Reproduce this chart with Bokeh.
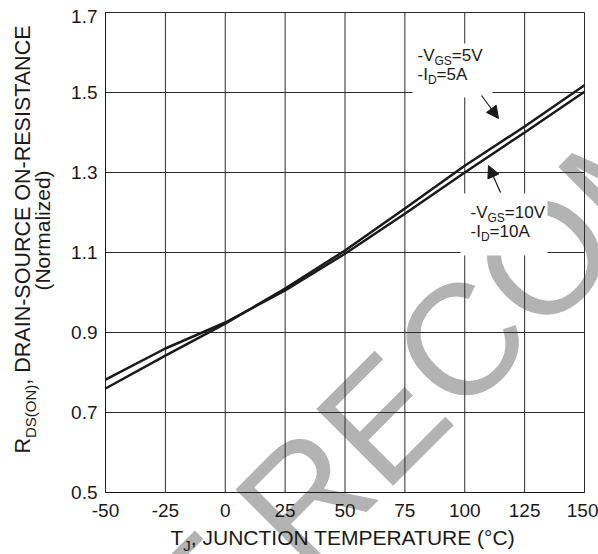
import math
from bokeh.plotting import figure
from bokeh.models import Range1d, FixedTicker, Label, Arrow, NormalHead, LinearAxis
from bokeh.embed import file_html
from bokeh.resources import INLINE

# ---------------- data ----------------
temps = [-50, -25, 0, 25, 50, 75, 100, 125, 150]
r_vgs5 = [0.760, 0.842, 0.922, 1.010, 1.105, 1.210, 1.317, 1.415, 1.518]
r_vgs10 = [0.782, 0.860, 0.925, 1.005, 1.097, 1.197, 1.300, 1.400, 1.502]
x_ticks = [-50, -25, 0, 25, 50, 75, 100, 125, 150]
x_tick_labels = ["-50", "-25", "0", "25", "50", "75", "100", "125", "150"]
y_ticks = [0.5, 0.7, 0.9, 1.1, 1.3, 1.5, 1.7]

X_MIN, X_MAX = -50, 150
Y_MIN, Y_MAX = 0.5, 1.7

INK = "#1a1a1a"
FONT = "Liberation Sans"

# ---------------- layout (canvas pixels) ----------------
W, H = 598, 554
FRAME_L, FRAME_W = 105, 479      # where x=-50 .. 150 sits on the canvas
FRAME_T, FRAME_H = 12, 480       # where y=1.7 .. 0.5 sits on the canvas
FRAME_B = FRAME_T + FRAME_H


def px2x(px):
    return X_MIN + (px - FRAME_L) * (X_MAX - X_MIN) / FRAME_W


def py2y(py):
    return Y_MIN + (FRAME_B - py) * (Y_MAX - Y_MIN) / FRAME_H


p = figure(width=W, height=H, output_backend="svg", toolbar_location=None, title=None,
           x_range=Range1d(px2x(0), px2x(W)), y_range=Range1d(py2y(H), py2y(0)),
           x_axis_location=None, y_axis_location=None,
           min_border=0, min_border_left=0, min_border_right=0,
           min_border_top=0, min_border_bottom=0)
p.background_fill_color = "white"
p.border_fill_color = "white"
p.outline_line_color = None
p.xgrid.visible = False
p.ygrid.visible = False

xaxis = LinearAxis(fixed_location=Y_MIN, bounds=(X_MIN, X_MAX), ticker=FixedTicker(ticks=x_ticks))
yaxis = LinearAxis(fixed_location=X_MIN, bounds=(Y_MIN, Y_MAX), ticker=FixedTicker(ticks=y_ticks))
for ax in (xaxis, yaxis):
    ax.axis_line_color = INK
    ax.axis_line_width = 1
    ax.major_tick_out = 0
    ax.major_tick_in = 0
    ax.minor_tick_out = 0
    ax.minor_tick_in = 0
    ax.major_label_text_font = FONT
    ax.major_label_text_font_size = "19px"
    ax.major_label_text_color = INK
xaxis.major_label_standoff = 11
yaxis.major_label_standoff = 8
xaxis.major_label_overrides = {t: s for t, s in zip(x_ticks, x_tick_labels)}
yaxis.major_label_overrides = {1.7: ""}
p.add_layout(xaxis, "below")
p.add_layout(yaxis, "left")

# ---------------- text helpers ----------------
WID = {" ": 278, "(": 333, ")": 333, ",": 278, "-": 333, "=": 584, "°": 400,
       "A": 667, "C": 722, "D": 722, "E": 667, "G": 778, "I": 278, "J": 500,
       "M": 833, "N": 722, "O": 778, "P": 667, "R": 722, "S": 667, "T": 611,
       "U": 722, "V": 667}
for d in "0123456789":
    WID[d] = 556

BASELINE_FIX = 0.42   # Label's alphabetic anchor sits this many em below the glyph baseline


def tw(s, size):
    return sum(WID.get(c, 556) for c in s) * size / 1000.0


def add_label(t, px, py, size, angle=0.0, align="left", baseline="alphabetic",
              color=INK, level="annotation"):
    if baseline == "alphabetic":
        px += -math.sin(angle) * BASELINE_FIX * size
        py += -math.cos(angle) * BASELINE_FIX * size
    lab = Label(x=px2x(px), y=py2y(py), x_units="data", y_units="data", text=t,
                text_font=FONT, text_font_size=f"{size}px", text_color=color,
                text_align=align, text_baseline=baseline, angle=angle, level=level)
    p.add_layout(lab)


def add_run(pieces, px, py, vertical=False):
    pos = 0.0
    for t, size, shift in pieces:
        if vertical:
            add_label(t, px + shift, py - pos, size, angle=math.pi / 2)
        else:
            add_label(t, px + pos, py + shift, size)
        pos += tw(t, size)


# ---------------- watermark ----------------
add_label("NOT RECOMMENDED", 46, 848, 158, angle=math.pi / 4, color="#b3b3b3", level="image")

# ---------------- grid (from the tick lists) ----------------
p.segment(x0=x_ticks, y0=[Y_MIN] * len(x_ticks), x1=x_ticks, y1=[Y_MAX] * len(x_ticks),
          line_color="#2b2b2b", line_width=1)
p.segment(x0=[X_MIN] * len(y_ticks), y0=y_ticks, x1=[X_MAX] * len(y_ticks), y1=y_ticks,
          line_color="#2b2b2b", line_width=1)

# ---------------- white boxes behind annotations ----------------
boxes = [(412, 492, 43, 97), (460, 547, 193, 255)]
p.quad(left=[px2x(b[0]) for b in boxes], right=[px2x(b[1]) for b in boxes],
       top=[py2y(b[2]) for b in boxes], bottom=[py2y(b[3]) for b in boxes],
       fill_color="white", line_color=None)

# ---------------- curves ----------------
p.line(temps, r_vgs5, line_color=INK, line_width=2.5)
p.line(temps, r_vgs10, line_color=INK, line_width=2.5)

# ---------------- annotations ----------------
add_run([("-V", 17, 0), ("GS", 12, 4), ("=5V", 17, 0)], 417, 62)
add_run([("-I", 17, 0), ("D", 12, 4), ("=5A", 17, 0)], 417, 81)
add_run([("-V", 17, 0), ("GS", 12, 4), ("=10V", 17, 0)], 470, 219)
add_run([("-I", 17, 0), ("D", 12, 4), ("=10A", 17, 0)], 470, 238)

for (x0, y0, x1, y1) in [(481, 95, 498, 118), (500, 192, 488, 165)]:
    p.add_layout(Arrow(x_start=px2x(x0), y_start=py2y(y0), x_end=px2x(x1), y_end=py2y(y1),
                       line_color=INK, line_width=1.2,
                       end=NormalHead(size=12, fill_color=INK, line_color=INK, line_width=1)))

# ---------------- axis titles & top tick ----------------
add_label("1.7", 97, 16, 19, align="right", baseline="middle")
add_run([("T", 21, 0), ("J", 15, 5), (", JUNCTION TEMPERATURE (°C)", 21, 0)], 170, 546)
add_run([("R", 21.5, 0), ("DS(ON)", 15, 4), (", DRAIN-SOURCE ON-RESISTANCE", 21.5, 0)],
        32, 453, vertical=True)
add_label("(Normalized)", 51, 230, 21, angle=math.pi / 2, align="center")

open("out.html", "w").write(file_html(p, INLINE))
